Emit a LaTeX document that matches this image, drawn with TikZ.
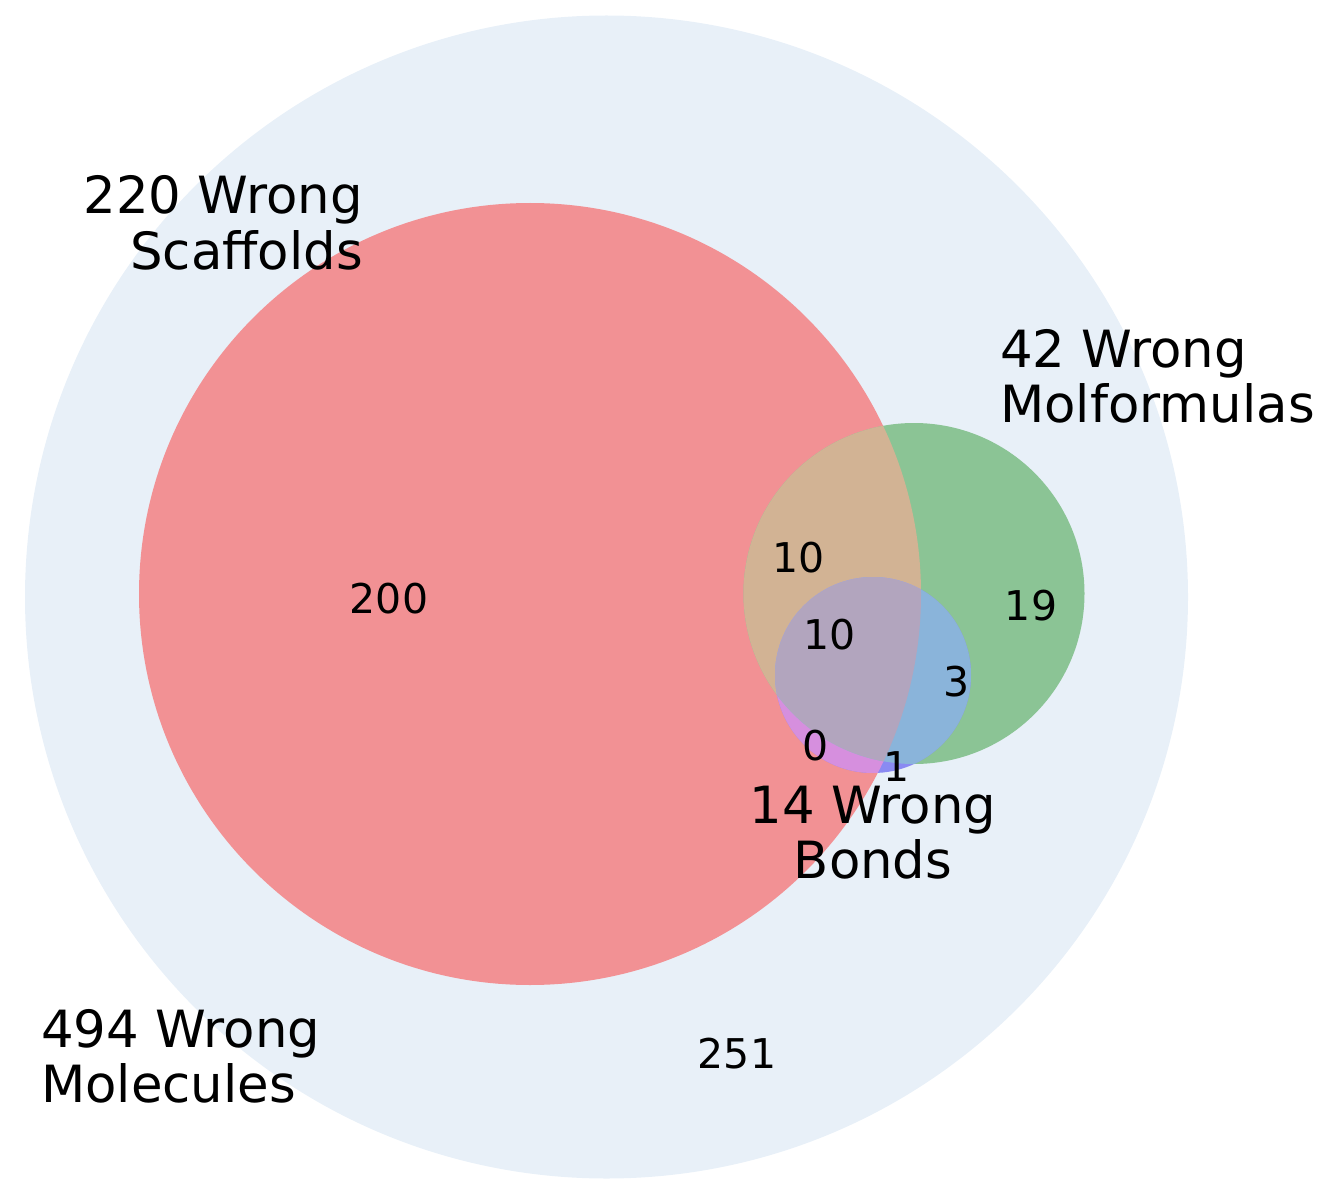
\documentclass[tikz,border=0pt]{standalone}
\usepackage{fontspec}
\setmainfont{DejaVu Sans}
\definecolor{cbg}{RGB}{232,240,248}
\definecolor{cred}{RGB}{242,145,148}
\definecolor{cgreen}{RGB}{139,196,149}
\definecolor{cblue}{RGB}{138,138,242}
\definecolor{ctan}{RGB}{210,179,148}
\definecolor{cmag}{RGB}{214,143,222}
\definecolor{cgb}{RGB}{138,180,218}
\definecolor{cmauve}{RGB}{178,165,190}
\begin{document}
\begin{tikzpicture}[x=1pt,y=-1pt,
  big/.style={font=\fontsize{51.3}{56}\selectfont, inner sep=0pt},
  num/.style={font=\fontsize{41}{46}\selectfont, inner sep=0pt}]
\useasboundingbox (0,0) rectangle (1328,1198);
\def\Rbig{(606.5,597) circle[radius=581.5]}
\def\Rred{(530,594) circle[radius=391]}
\def\Rgreen{(914,593.5) circle[radius=170.5]}
\def\Rblue{(873,675) circle[radius=98]}
\fill[cbg] \Rbig;
\fill[cred] \Rred;
\fill[cgreen] \Rgreen;
\fill[cblue] \Rblue;
\begin{scope}
  \clip \Rred;
  \fill[ctan] \Rgreen;
  \fill[cmag] \Rblue;
\end{scope}
\begin{scope}
  \clip \Rgreen;
  \fill[cgb] \Rblue;
\end{scope}
\begin{scope}
  \clip \Rred;
  \clip \Rgreen;
  \fill[cmauve] \Rblue;
\end{scope}
% set labels
\node[big, anchor=base east] (s1) at (363,214) {220 Wrong};
\node[big, anchor=base east] (s2) at (363,270) {Scaffolds};
\node[big, anchor=base west] (m1) at (1000,367) {42 Wrong};
\node[big, anchor=base west] (m2) at (1000,422) {Molformulas};
\node[big, anchor=base] (b1) at (873,823) {14 Wrong};
\node[big, anchor=base] (b2) at (873,878) {Bonds};
\node[big, anchor=base west] (w1) at (41,1047) {494 Wrong};
\node[big, anchor=base west] (w2) at (41,1102) {Molecules};
% region counts
\node[num, anchor=base] (n200) at (389,613) {200};
\node[num, anchor=base] (n10a) at (799,572) {10};
\node[num, anchor=base] (n19) at (1031,620) {19};
\node[num, anchor=base] (n10b) at (830,649) {10};
\node[num, anchor=base] (n3) at (957,696) {3};
\node[num, anchor=base] (n0) at (816,760) {0};
\node[num, anchor=base] (n1) at (897,781) {1};
\node[num, anchor=base] (n251) at (737,1068) {251};
\end{tikzpicture}
\end{document}
